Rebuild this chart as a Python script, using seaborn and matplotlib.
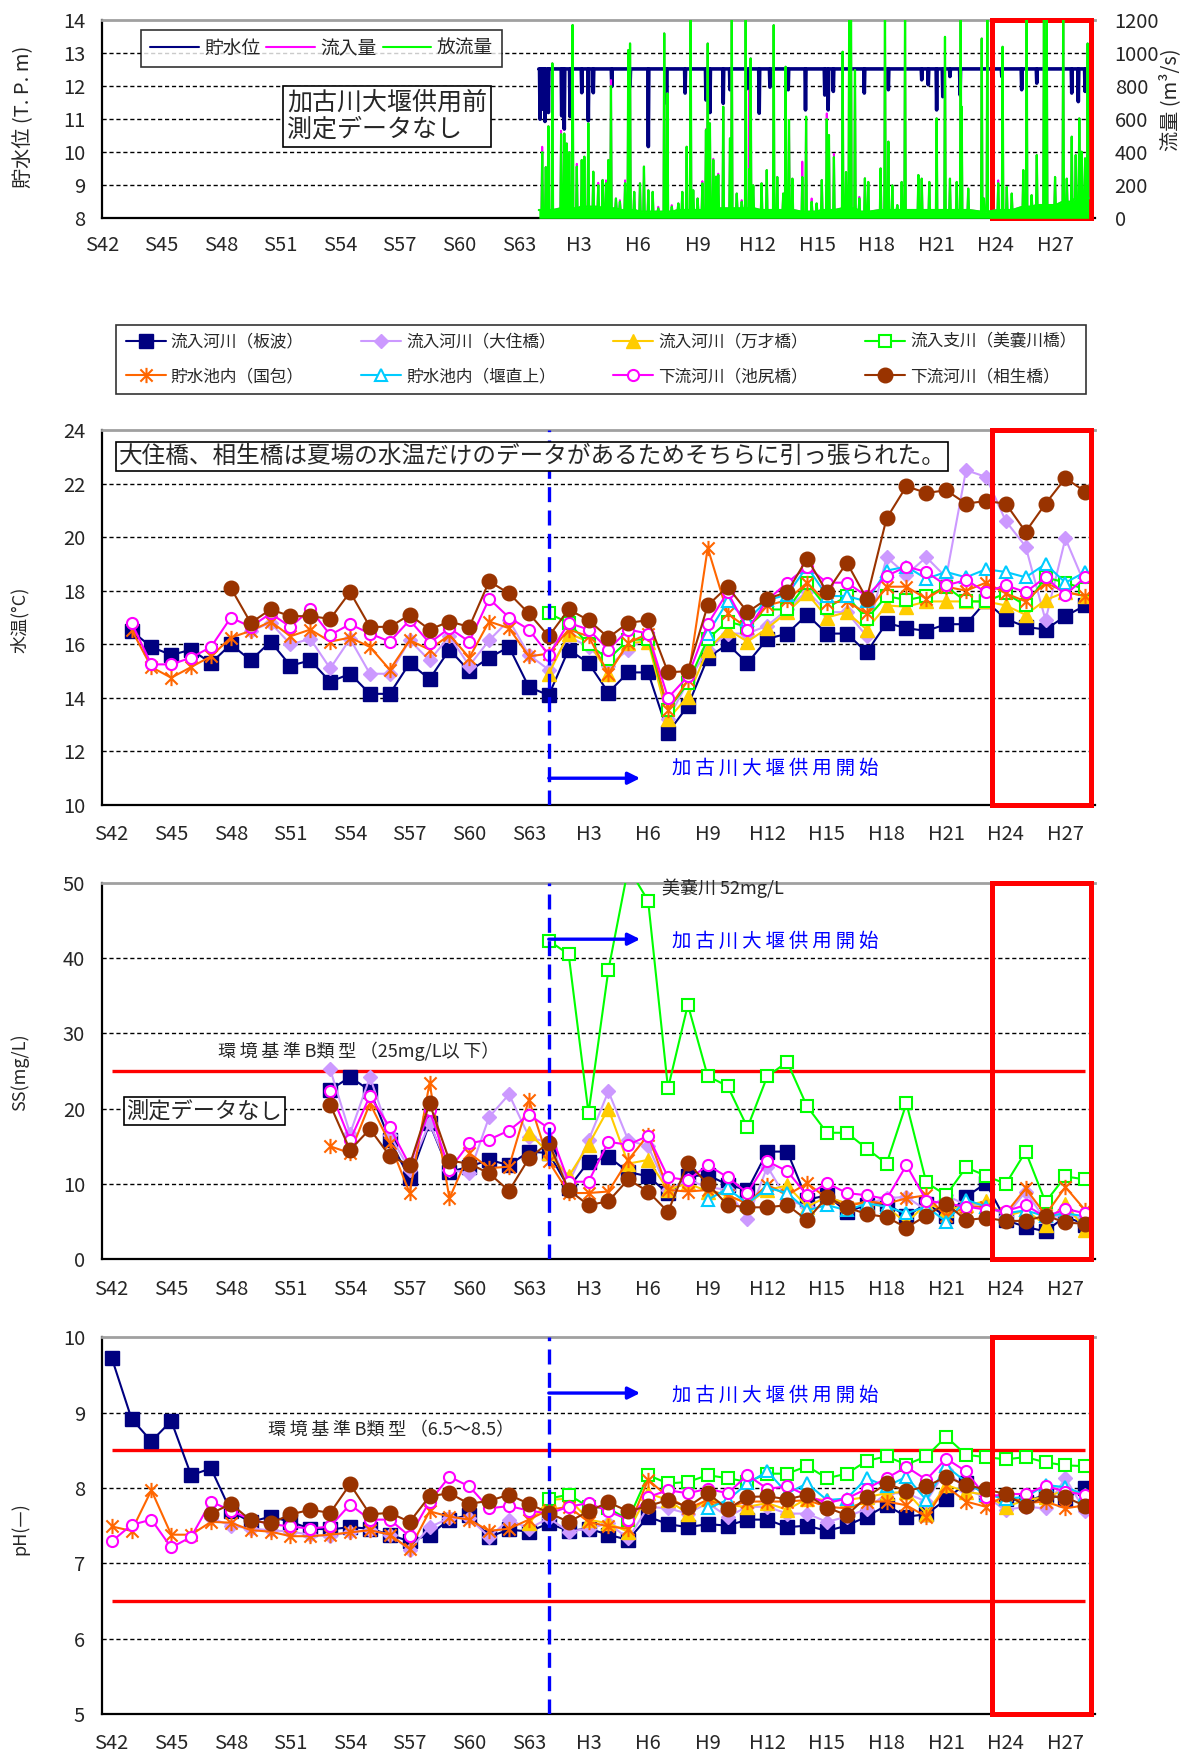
import numpy as np
import matplotlib
matplotlib.use("Agg")
import matplotlib.pyplot as plt
import seaborn as sns
from matplotlib.lines import Line2D
from matplotlib.patches import Rectangle
from matplotlib.path import Path

sns.set_style("white")
plt.rcParams["font.family"] = ["Noto Sans CJK JP", "DejaVu Sans"]
plt.rcParams["axes.unicode_minus"] = False

na = np.nan

# ---------------------------------------------------------------- categories
categories = ["S42", "S43", "S44", "S45", "S46", "S47", "S48", "S49", "S50", "S51",
              "S52", "S53", "S54", "S55", "S56", "S57", "S58", "S59", "S60", "S61",
              "S62", "S63", "H1", "H2", "H3", "H4", "H5", "H6", "H7", "H8",
              "H9", "H10", "H11", "H12", "H13", "H14", "H15", "H16", "H17", "H18",
              "H19", "H20", "H21", "H22", "H23", "H24", "H25", "H26", "H27", "H28"]
tick_labels = ["S42", "S45", "S48", "S51", "S54", "S57", "S60", "S63", "H3",
               "H6", "H9", "H12", "H15", "H18", "H21", "H24", "H27"]
first_year = 1967          # calendar year of S42
weir_start = "H1"          # 加古川大堰供用開始

# ---------------------------------------------------------------- water temperature (°C)
temp_itanami = [na, 16.5, 15.9, 15.6, 15.8, 15.3, 16.0, 15.4, 16.1, 15.2, 15.4, 14.6, 14.9, 14.15, 14.15,
                15.3, 14.7, 15.8, 15.0, 15.5, 15.9, 14.4, 14.1, 15.8, 15.3, 14.2, 14.95, 14.95, 12.7, 13.7,
                15.5, 16.0, 15.3, 16.2, 16.4, 17.1, 16.4, 16.4, 15.7, 16.8, 16.6, 16.5, 16.75, 16.75, 17.6,
                16.95, 16.65, 16.55, 17.05, 17.45]
temp_osumi = [na, na, na, na, na, na, na, 16.5, 16.8, 16.0, 16.2, 15.1, 16.2, 14.9, 14.9,
              16.15, 15.4, 16.3, 15.2, 16.15, 16.9, 15.6, 15.05, 16.3, 15.9, 15.2, 15.8, 16.3, 13.2, 14.6,
              15.8, 16.4, 16.4, 16.7, 17.3, 18.0, 17.2, 17.2, 16.3, 19.25, 18.6, 19.25, 18.5, 22.5, 22.25,
              20.6, 19.65, 16.9, 19.95, 18.2]
temp_bansai = [na] * 22 + [14.9, 16.4, 16.1, 14.9, 16.05, 16.1, 13.2, 14.05, 15.8, 16.55, 16.1, 16.6, 17.2,
                           17.9, 17.0, 17.2, 16.55, 17.45, 17.4, 17.6, 17.6, 17.6, 17.6, 17.45, 17.1, 17.65,
                           17.95, 17.8]
temp_minagi = [na] * 22 + [17.15, 16.8, 16.0, 15.45, 16.15, 16.2, 13.55, 14.55, 16.2, 16.85, 16.65, 17.3,
                           17.3, 18.3, 17.35, 17.8, 16.95, 17.8, 17.65, 17.8, 18.15, 17.6, 17.6, 17.9, 17.45,
                           18.5, 18.3, 18.05]
temp_kunikane = [na, 16.55, 15.15, 14.75, 15.15, 15.55, 16.25, 16.5, 16.85, 16.3, 16.55, 16.1, 16.25, 15.9,
                 15.05, 16.15, 15.8, 16.35, 15.5, 16.85, 16.6, 15.55, 15.65, 16.55, 16.3, 14.9, 16.05, 16.4,
                 13.55, 14.65, 19.6, 17.15, 16.6, 17.45, 17.65, 18.3, 17.55, 17.6, 17.15, 18.15, 18.15, 17.7,
                 18.15, 18.0, 18.3, 17.9, 17.6, 18.3, 17.95, 17.8]
temp_chokujo = [na] * 30 + [16.4, 17.6, 16.9, 17.65, 17.85, 18.9, 17.8, 17.8, 17.6, 18.75, 18.9, 18.45,
                            18.7, 18.5, 18.8, 18.7, 18.5, 19.0, 18.3, 18.7]
temp_ikejiri = [na, 16.8, 15.25, 15.25, 15.5, 15.9, 17.0, 16.65, 17.15, 16.65, 17.3, 16.35, 16.75, 16.4,
                16.1, 16.9, 16.05, 16.6, 16.1, 17.7, 17.0, 16.55, 15.6, 16.8, 16.55, 15.8, 16.55, 16.4, 14.0,
                14.8, 16.75, 17.95, 16.55, 17.65, 18.3, 18.9, 18.3, 18.3, 17.8, 18.55, 18.9, 18.7, 18.2, 18.4,
                17.95, 18.2, 17.95, 18.5, 17.85, 18.5]
temp_aioi = [na, na, na, na, na, na, 18.1, 16.8, 17.3, 17.05, 17.05, 16.95, 17.95, 16.65, 16.65, 17.1,
             16.55, 16.85, 16.65, 18.35, 17.9, 17.15, 16.3, 17.3, 16.9, 16.25, 16.8, 16.9, 14.95, 15.0, 17.45,
             18.15, 17.2, 17.7, 17.95, 19.2, 17.95, 19.05, 17.7, 20.7, 21.9, 21.65, 21.75, 21.25, 21.35,
             21.25, 20.2, 21.25, 22.2, 21.7]

# ---------------------------------------------------------------- SS (mg/L)
ss_itanami = [na] * 11 + [22.5, 24.2, 22.4, 15.8, 10.75, 18.05, 11.6, 12.3, 13.2, 12.5, 14.3, 14.1, 9.5,
                          12.95, 13.6, 11.6, 11.0, 8.75, 11.0, 11.2, 9.9, 9.2, 14.3, 14.3, 7.9, 8.5, 6.3,
                          7.2, 7.4, 5.7, 7.4, 5.7, 8.3, 10.1, 5.2, 4.3, 3.7, 5.7, 4.6]
ss_osumi = [na] * 11 + [25.2, 16.7, 24.2, 16.5, 11.9, 18.1, 11.9, 11.4, 18.9, 21.9, 16.3, 15.4, 10.1, 15.8,
                        22.3, 15.8, 15.0, 9.2, 10.5, 9.6, 9.2, 5.4, 12.3, 7.9, 7.0, 8.3, 7.4, 7.4, 8.1, 8.3,
                        6.5, 8.5, 7.2, 7.4, 5.7, 9.0, 5.2, 6.1, 5.2]
ss_bansai = [na] * 21 + [16.8, 14.1, 11.0, 15.2, 20.0, 12.7, 13.2, 9.2, 10.1, 9.0, 8.5, 7.4, 9.2, 9.8, 7.0,
                         8.3, 7.4, 7.4, 7.0, 4.8, 7.4, 6.5, 7.2, 7.7, 5.7, 6.5, 4.6, 7.4, 3.9]
ss_minagi = [na] * 22 + [42.3, 40.5, 19.4, 38.4, 52.0, 47.6, 22.7, 33.8, 24.3, 23.0, 17.5, 24.3, 26.2,
                         20.3, 16.8, 16.8, 14.7, 12.7, 20.7, 10.2, 8.5, 12.2, 11.1, 10.0, 14.3, 7.6, 11.0, 10.6]
ss_kunikane = [na] * 11 + [15.0, 14.1, 20.7, 15.4, 8.8, 23.4, 8.1, 14.1, 12.1, 12.3, 21.2, 13.0, 8.8, 8.8,
                           9.0, 13.2, 16.5, 9.2, 9.0, 9.2, 8.5, 7.4, 9.9, 8.5, 10.1, 8.1, 7.0, 7.7, 7.4, 8.1,
                           8.5, 5.7, 7.0, 7.0, 6.1, 9.4, 5.9, 9.6, 6.5]
ss_chokujo = [na] * 30 + [7.9, 9.4, 7.4, 9.5, 8.8, 6.5, 7.2, 6.5, 7.4, 7.0, 6.1, 7.0, 5.0, 7.9, 7.0, 6.1,
                          6.5, 5.7, 6.1, 5.7]
ss_ikejiri = [na] * 11 + [22.4, 15.8, 21.7, 17.5, 12.5, 19.8, 11.9, 15.4, 15.9, 17.1, 19.2, 17.4, 10.3,
                          10.3, 15.6, 15.2, 16.4, 10.9, 10.5, 12.5, 10.9, 8.8, 13.0, 11.7, 8.5, 10.1, 8.8, 8.5,
                          8.0, 12.5, 7.8, 7.4, 7.0, 6.6, 6.4, 7.2, 5.6, 6.7, 6.1]
ss_aioi = [na] * 11 + [20.5, 14.5, 17.3, 13.7, 12.5, 20.7, 13.1, 12.7, 11.4, 9.1, 13.4, 15.5, 9.2, 7.2, 7.7,
                       10.6, 9.0, 6.3, 12.8, 10.0, 7.2, 6.9, 6.9, 7.2, 5.2, 8.3, 6.9, 6.0, 5.6, 4.2, 5.8, 7.4,
                       5.2, 5.5, 5.1, 5.1, 5.8, 4.9, 4.7]

# ---------------------------------------------------------------- pH
ph_itanami = [9.73, 8.92, 8.62, 8.89, 8.17, 8.26, 7.69, 7.55, 7.62, 7.55, 7.46, 7.45, 7.48, 7.46, 7.38,
              7.29, 7.38, 7.58, 7.64, 7.35, 7.45, 7.42, 7.53, 7.43, 7.46, 7.38, 7.31, 7.62, 7.52, 7.48,
              7.52, 7.5, 7.58, 7.58, 7.48, 7.5, 7.43, 7.5, 7.62, 7.77, 7.62, 7.65, 7.85, 8.06, 7.93, 7.86,
              7.82, 7.91, 7.86, 8.0]
ph_osumi = [na] * 5 + [7.6, 7.5, 7.46, 7.44, 7.42, 7.38, 7.36, 7.42, 7.44, 7.38, 7.18, 7.48, 7.6, 7.6, 7.35,
                       7.58, 7.46, 7.6, 7.42, 7.46, 7.53, 7.33, 7.75, 7.73, 7.66, 7.8, 7.62, 7.75, 7.75, 7.66,
                       7.66, 7.55, 7.62, 7.72, 7.93, 7.93, 7.82, 8.24, 7.97, 7.88, 7.71, 7.75, 7.73, 8.13, 7.69]
ph_bansai = [na] * 21 + [7.53, 7.84, 7.86, 7.58, 7.53, 7.42, 7.93, 7.84, 7.66, 7.86, 7.77, 7.75, 7.8, 7.71,
                         7.86, 7.84, 7.84, 7.88, 7.93, 7.95, 7.66, 8.04, 7.95, 7.91, 7.75, 7.84, 7.88, 7.97, 7.91]
ph_minagi = [na] * 22 + [7.86, 7.91, 7.75, 7.73, 7.58, 8.17, 8.06, 8.08, 8.17, 8.13, 8.08, 8.19, 8.19,
                         8.29, 8.13, 8.19, 8.36, 8.42, 8.31, 8.42, 8.68, 8.44, 8.41, 8.38, 8.41, 8.34, 8.3, 8.29]
ph_kunikane = [7.49, 7.43, 7.97, 7.38, 7.38, 7.55, 7.54, 7.44, 7.42, 7.36, 7.36, 7.38, 7.41, 7.44, 7.38,
               7.19, 7.69, 7.62, 7.58, 7.43, 7.46, 7.58, 7.71, 7.75, 7.55, 7.49, 7.46, 8.11, 7.88, 7.73,
               7.84, 7.75, 7.82, 7.82, 7.82, 7.84, 7.75, 7.73, 7.82, 7.82, 7.77, 7.62, 8.02, 7.82, 7.75,
               7.91, 7.8, 7.82, 7.73, 7.77]
ph_chokujo = [na] * 30 + [7.73, 7.84, 8.06, 8.22, 7.93, 8.06, 7.84, 7.86, 8.13, 8.02, 8.15, 7.84, 8.29,
                          8.08, 7.91, 7.86, 7.88, 8.04, 8.01, 7.91]
ph_ikejiri = [7.29, 7.51, 7.58, 7.21, 7.35, 7.82, 7.7, 7.58, 7.52, 7.49, 7.46, 7.49, 7.78, 7.58, 7.58,
              7.36, 7.82, 8.15, 8.02, 7.73, 7.76, 7.7, 7.66, 7.75, 7.8, 7.69, 7.58, 7.88, 7.97, 7.93, 7.99,
              7.93, 8.17, 7.99, 8.02, 7.9, 7.8, 7.86, 7.99, 8.13, 8.28, 8.11, 8.39, 8.22, 7.88, 7.92, 7.92,
              8.03, 7.95, 7.91]
ph_aioi = [na] * 5 + [7.66, 7.79, 7.57, 7.53, 7.65, 7.71, 7.67, 8.05, 7.65, 7.67, 7.55, 7.89, 7.93, 7.79,
                      7.83, 7.91, 7.79, 7.67, 7.55, 7.69, 7.81, 7.69, 7.76, 7.84, 7.75, 7.93, 7.72, 7.88, 7.89,
                      7.85, 7.91, 7.74, 7.64, 7.88, 8.06, 7.96, 8.02, 8.15, 8.04, 7.98, 7.92, 7.76, 7.89, 7.88,
                      7.76]

# environmental standards (class B)
ss_limit = 25
ph_lower, ph_upper = 6.5, 8.5

# ---------------------------------------------------------------- reservoir record (H1–H28)
normal_level = 12.52
level_dip_t = [1989.06, 1989.19, 1989.31, 1989.48, 1990.15, 1990.28, 1990.57, 1991.16, 1991.49, 1991.74,
               1992.67, 1993.59, 1994.51, 1995.43, 1996.36, 1997.41, 1997.61, 1998.28, 1998.62, 1999.59,
               2000.09, 2000.63, 2001.55, 2002.42, 2003.39, 2003.56, 2003.82, 2005.38, 2006.59, 2008.27,
               2008.60, 2009.02, 2009.33, 2009.69, 2010.20, 2012.30, 2013.30, 2014.06, 2015.82, 2016.15,
               2016.49]
level_dip_v = [11.0, 11.3, 10.93, 11.2, 11.1, 10.7, 11.08, 11.8, 10.95, 11.8,
               11.99, 11.99, 10.17, 11.48, 11.79, 11.58, 11.2, 11.48, 11.89, 11.89,
               11.18, 11.97, 11.89, 11.28, 11.73, 11.28, 11.84, 11.79, 11.89, 12.19,
               12.04, 11.28, 11.68, 12.29, 11.73, 12.29, 11.89, 12.09, 11.79, 11.53,
               11.84]

flow_t = [1989.17, 1989.35, 1989.48, 1989.68, 1990.12, 1990.28, 1990.40, 1990.53, 1990.70, 1990.91,
          1991.16, 1991.29, 1991.49, 1991.74, 1991.99, 1992.21, 1992.38, 1992.50, 1992.63, 1992.88,
          1993.08, 1993.34, 1993.50, 1993.59, 1993.80, 1994.09, 1994.29, 1994.51, 1994.73, 1995.01,
          1995.31, 1995.47, 1995.69, 1996.02, 1996.22, 1996.44, 1996.64, 1996.77, 1996.99, 1997.23,
          1997.41, 1997.50, 1997.61, 1997.78, 1997.92, 1998.03, 1998.28, 1998.62, 1998.71, 1998.96,
          1999.21, 1999.41, 1999.60, 1999.66, 1999.79, 2000.21, 2000.47, 2000.82, 2001.00, 2001.30,
          2001.42, 2001.59, 2001.76, 2002.26, 2002.45, 2002.73, 2002.98, 2003.24, 2003.49, 2003.60,
          2003.85, 2004.29, 2004.46, 2004.62, 2004.71, 2004.91, 2005.13, 2005.41, 2005.58, 2006.20,
          2006.42, 2006.59, 2006.79, 2007.04, 2007.26, 2007.43, 2008.10, 2008.27, 2008.65, 2009.02,
          2009.44, 2009.69, 2010.03, 2010.23, 2010.28, 2010.61, 2011.29, 2011.40, 2011.57, 2012.12,
          2012.34, 2012.55, 2012.80, 2013.38, 2013.55, 2013.80, 2014.06, 2014.42, 2014.56, 2014.98,
          2015.39, 2015.57, 2015.82, 2016.02, 2016.20, 2016.32, 2016.49, 2016.62]
outflow_peak = [400, 310, 557, 938, 509, 513, 453, 400, 1170, 313,
                353, 373, 575, 282, 200, 232, 212, 353, 800, 120,
                100, 212, 1018, 1058, 160, 212, 313, 170, 160, 60,
                1119, 756, 70, 90, 160, 433, 1250, 170, 120, 212,
                534, 1058, 575, 353, 252, 262, 675, 484, 1250, 150,
                100, 1250, 300, 968, 200, 212, 292, 1169, 250, 150,
                917, 595, 240, 250, 615, 100, 90, 232, 600, 504,
                370, 1008, 280, 1250, 1250, 897, 120, 242, 220, 302,
                1250, 464, 200, 80, 220, 1250, 262, 240, 220, 605,
                1098, 240, 220, 1250, 675, 180, 1088, 120, 1250, 212,
                1038, 190, 150, 292, 1250, 140, 383, 1250, 1250, 250,
                1250, 240, 494, 383, 605, 403, 363, 1058]
inflow_peak = [433, 310, 557, 938, 530, 513, 453, 400, 1170, 330,
               353, 373, 575, 282, 215, 232, 230, 353, 837, 120,
               110, 230, 1018, 1058, 160, 212, 313, 170, 160, 70,
               1119, 756, 80, 90, 160, 433, 1250, 170, 120, 225,
               540, 1058, 575, 360, 252, 270, 675, 484, 1250, 150,
               110, 1250, 776, 968, 200, 212, 292, 1169, 250, 150,
               917, 595, 240, 343, 615, 120, 90, 232, 635, 504,
               390, 1008, 280, 1250, 1250, 897, 130, 242, 220, 302,
               1250, 464, 200, 80, 220, 1250, 262, 240, 220, 605,
               1098, 240, 220, 1250, 675, 180, 1088, 120, 1250, 230,
               1038, 190, 150, 292, 1250, 140, 383, 1250, 1250, 250,
               1250, 240, 494, 383, 605, 403, 363, 1058]
base_years = list(range(1989, 2017))
flow_base = [50, 60, 70, 60, 50, 40, 40, 50, 50, 60, 60, 50, 50, 40,
             50, 60, 40, 50, 50, 50, 50, 50, 40, 50, 70, 80, 100, 120]
record_start, record_end = 1989.0, 2016.67


def spike_line(times, peaks, base_of, half):
    ts, vs = [record_start], [base_of(record_start)]
    for t, p in zip(times, peaks):
        b = base_of(t)
        ts += [t - half, t, t + half]
        vs += [b, p, b]
    ts.append(record_end)
    vs.append(base_of(record_end))
    return np.array(ts), np.array(vs)


def flow_base_at(t):
    return flow_base[base_years.index(int(t))]


# ---------------------------------------------------------------- figure
W, H = 1190, 1751
fig = plt.figure(figsize=(W / 100, H / 100), dpi=100)


def rect(l, t, r, b):
    return [l / W, 1 - b / H, (r - l) / W, (b - t) / H]


def fp(x, y):
    return x / W, 1 - y / H


AX_L, AX_R = 101.7, 1095.2
TICK_FS = 14.5
GRID = dict(color="black", lw=1.0, ls=(0, (3, 2)), zorder=1)
BLUE = "#0000FF"
RED = "#FF0000"


def frame(ax):
    for s in ("left", "bottom"):
        ax.spines[s].set_color("black")
        ax.spines[s].set_linewidth(1.6)
    ax.spines["right"].set_visible(False)
    ax.spines["top"].set_color("#A0A0A0")
    ax.spines["top"].set_linewidth(2.0)


# ---------------- top: water level and discharge
ax0 = fig.add_axes(rect(AX_L, 20, AX_R, 218.3))
axq = ax0.twinx()
frame(ax0)
for s in axq.spines.values():
    s.set_visible(False)
ax0.set_xlim(first_year, first_year + len(categories))
ax0.set_ylim(8, 14)
axq.set_ylim(0, 1200)
ax0.set_yticks(range(8, 15))
axq.set_yticks(range(0, 1201, 200))
for v in range(9, 14):
    ax0.axhline(v, **GRID)
ax0.set_xticks([first_year + categories.index(c) for c in tick_labels])
ax0.set_xticklabels(tick_labels)
ax0.tick_params(axis="x", direction="in", length=6, width=1.2, pad=12, labelsize=TICK_FS)
ax0.tick_params(axis="y", length=0, pad=12, labelsize=TICK_FS)
axq.tick_params(axis="y", length=0, pad=14, labelsize=TICK_FS)

lt, lv = spike_line(level_dip_t, level_dip_v, lambda t: normal_level, 0.025)
sns.lineplot(x=lt, y=lv, ax=ax0, color="#000080", lw=2.6, sort=False, estimator=None, zorder=3)
it, iv = spike_line(flow_t, inflow_peak, flow_base_at, 0.035)
ot, ov = spike_line(flow_t, outflow_peak, flow_base_at, 0.035)
sns.lineplot(x=it, y=iv, ax=axq, color="#FF00FF", lw=1.4, sort=False, estimator=None, zorder=3)
axq.fill_between(ot, 0, ov, color="#00FF00", lw=0, zorder=4)
sns.lineplot(x=ot, y=ov, ax=axq, color="#00FF00", lw=1.6, sort=False, estimator=None, zorder=4)
ax0.set_ylabel("")
axq.set_ylabel("")

fig.text(*fp(24, 117), "貯水位 (T. P. m)", rotation=90, ha="center", va="center", fontsize=14.5)
fig.text(*fp(1170, 100), "流量 (m³/s)", rotation=90, ha="center", va="center", fontsize=14.5)

top_handles = [Line2D([], [], color="#000080", lw=1.5),
               Line2D([], [], color="#FF00FF", lw=1.5),
               Line2D([], [], color="#00FF00", lw=1.5)]
leg0 = fig.legend(top_handles, ["貯水位", "流入量", "放流量"], ncol=3, mode="expand",
                  loc="center", bbox_to_anchor=(132 / W, 1 - 64 / H, 379 / W, 31 / H),
                  fontsize=13.5, handlelength=2.6, handletextpad=0.3, borderpad=0.45,
                  frameon=True, fancybox=False, edgecolor="black")
leg0.get_frame().set_linewidth(1.2)

fig.text(*fp(287, 90), "加古川大堰供用前\n測定データなし", ha="left", va="top", fontsize=18,
         linespacing=1.05,
         bbox=dict(boxstyle="square,pad=0.15", fc="white", ec="black", lw=1.2))

# ---------------- station styles
star = Path([(0, -1), (0, 1), (-0.8, -0.8), (0.8, 0.8), (-0.8, 0.8), (0.8, -0.8)],
            [Path.MOVETO, Path.LINETO, Path.MOVETO, Path.LINETO, Path.MOVETO, Path.LINETO])

stations = [
    ("流入河川（板波）", temp_itanami, ss_itanami, ph_itanami,
     dict(color="#000080", marker="s", ms=9.5, mfc="#000080", mec="#000080", mew=1.0)),
    ("流入河川（大住橋）", temp_osumi, ss_osumi, ph_osumi,
     dict(color="#CC99FF", marker="D", ms=7.5, mfc="#CC99FF", mec="#CC99FF", mew=1.0)),
    ("流入河川（万才橋）", temp_bansai, ss_bansai, ph_bansai,
     dict(color="#FFCC00", marker="^", ms=10, mfc="#FFCC00", mec="#FFCC00", mew=1.0)),
    ("流入支川（美嚢川橋）", temp_minagi, ss_minagi, ph_minagi,
     dict(color="#00FF00", marker="s", ms=8.5, mfc="white", mec="#00FF00", mew=1.5)),
    ("貯水池内（国包）", temp_kunikane, ss_kunikane, ph_kunikane,
     dict(color="#FF6600", marker=star, ms=11, mfc="none", mec="#FF6600", mew=1.5)),
    ("貯水池内（堰直上）", temp_chokujo, ss_chokujo, ph_chokujo,
     dict(color="#00CCFF", marker="^", ms=8.5, mfc="white", mec="#00CCFF", mew=1.5)),
    ("下流河川（池尻橋）", temp_ikejiri, ss_ikejiri, ph_ikejiri,
     dict(color="#FF00FF", marker="o", ms=8, mfc="white", mec="#FF00FF", mew=1.5)),
    ("下流河川（相生橋）", temp_aioi, ss_aioi, ph_aioi,
     dict(color="#993300", marker="o", ms=10.5, mfc="#993300", mec="#993300", mew=1.0)),
]

pos = np.arange(len(categories))
weir_pos = categories.index(weir_start)


def plot_stations(ax, which):
    for k, st in enumerate(stations):
        vals = np.array(st[which], dtype=float)
        ok = ~np.isnan(vals)
        style = st[4]
        sns.lineplot(x=pos[ok], y=vals[ok], ax=ax, color=style["color"], lw=1.5,
                     marker=style["marker"], markersize=style["ms"],
                     markerfacecolor=style["mfc"], markeredgecolor=style["mec"],
                     markeredgewidth=style["mew"], sort=False, estimator=None,
                     zorder=4 + k * 0.1, clip_on=True)
    ax.set_xlabel("")
    ax.set_ylabel("")


def category_axes(ax, ymin, ymax, step):
    frame(ax)
    ax.set_xlim(-0.5, len(categories) - 0.5)
    ax.set_ylim(ymin, ymax)
    ticks = np.arange(ymin, ymax + step / 2, step)
    ax.set_yticks(ticks)
    for v in ticks[1:-1]:
        ax.axhline(v, **GRID)
    ax.set_xticks([categories.index(c) for c in tick_labels])
    ax.set_xticklabels(tick_labels)
    ax.set_xticks(np.arange(0.5, len(categories) - 1, 1), minor=True)
    ax.tick_params(axis="x", which="major", length=0, pad=14, labelsize=TICK_FS)
    ax.tick_params(axis="x", which="minor", direction="in", length=6, width=1.2)
    ax.tick_params(axis="y", length=0, pad=12, labelsize=TICK_FS)
    ax.axvline(weir_pos, color=BLUE, lw=2.4, ls=(0, (4.5, 2.5)), zorder=6)


def weir_arrow(ax, y_arrow, y_text):
    ax.annotate("", xy=(weir_pos + 4.6, y_arrow), xytext=(weir_pos, y_arrow),
                arrowprops=dict(arrowstyle="-|>", color=BLUE, lw=2.4, mutation_scale=18,
                                shrinkA=0, shrinkB=0), zorder=7)
    ax.text(weir_pos + 6.2, y_text, "加\u2009古\u2009川\u2009大\u2009堰\u2009供\u2009用\u2009開\u2009始",
            color=BLUE, fontsize=14, ha="left", va="center", zorder=7)


def red_box(ax, x0, x1):
    ax.add_patch(Rectangle((x0, 0), x1 - x0, 1, transform=ax.get_xaxis_transform(),
                           fill=False, ec=RED, lw=3.6, clip_on=False, zorder=20))


red_box(ax0, first_year + 44.8, first_year + 49.78)

# ---------------- legend block
leg_handles = []
for st in stations:
    s = st[4]
    leg_handles.append(Line2D([], [], color=s["color"], lw=1.5, marker=s["marker"], markersize=s["ms"],
                              markerfacecolor=s["mfc"], markeredgecolor=s["mec"],
                              markeredgewidth=s["mew"]))
order = [0, 4, 1, 5, 2, 6, 3, 7]
leg1 = fig.legend([leg_handles[i] for i in order], [stations[i][0] for i in order], ncol=4,
                  mode="expand", loc="center",
                  bbox_to_anchor=(108 / W, 1 - 394 / H, 986 / W, 69 / H),
                  fontsize=12, handlelength=2.4, handletextpad=0.3, labelspacing=1.05,
                  borderpad=0.55, numpoints=1, frameon=True, fancybox=False, edgecolor="black")
leg1.get_frame().set_linewidth(1.2)

# ---------------- water temperature
ax1 = fig.add_axes(rect(AX_L, 430, AX_R, 805))
category_axes(ax1, 10, 24, 2)
plot_stations(ax1, 1)
weir_arrow(ax1, 11.0, 11.38)
red_box(ax1, 44.3, 49.28)
ax1.text(0.35, 23.0, "大住橋、相生橋は夏場の水温だけのデータがあるためそちらに引っ張られた。",
         fontsize=17, ha="left", va="center", zorder=8,
         bbox=dict(boxstyle="square,pad=0.12", fc="white", ec="black", lw=1.2))
fig.text(*fp(20, 620), "水温(°C)", rotation=90, ha="center", va="center", fontsize=13)

# ---------------- SS
ax2 = fig.add_axes(rect(AX_L, 882.7, AX_R, 1259.3))
category_axes(ax2, 0, 50, 10)
ax2.hlines(ss_limit, 0, len(categories) - 1, color=RED, lw=2.4, zorder=3)
plot_stations(ax2, 2)
weir_arrow(ax2, 42.5, 42.2)
red_box(ax2, 44.3, 49.28)
ax2.text(5.35, ss_limit + 2.6, "環\u2009境\u2009基\u2009準\u2009B類\u2009型\u2009（25mg/L以\u2009下）",
         fontsize=13, ha="left", va="center", zorder=8)
peak_year = "H5"
ax2.text(27.7, 49.3, f"美嚢川 {ss_minagi[categories.index(peak_year)]:.0f}mg/L", fontsize=13,
         ha="left", va="center", zorder=8)
ax2.text(0.75, 19.66, "測定データなし", fontsize=16, ha="left", va="center", zorder=8,
         bbox=dict(boxstyle="square,pad=0.12", fc="white", ec="black", lw=1.2))
fig.text(*fp(20, 1072), "SS(mg/L)", rotation=90, ha="center", va="center", fontsize=13)

# ---------------- pH
ax3 = fig.add_axes(rect(AX_L, 1337.3, AX_R, 1714))
category_axes(ax3, 5, 10, 1)
ax3.hlines([ph_upper, ph_lower], 0, len(categories) - 1, color=RED, lw=2.4, zorder=3)
plot_stations(ax3, 3)
weir_arrow(ax3, 9.26, 9.23)
red_box(ax3, 44.3, 49.28)
ax3.text(7.87, 8.77, f"環\u2009境\u2009基\u2009準\u2009B類\u2009型\u2009（{ph_lower}～{ph_upper}）",
         fontsize=13, ha="left", va="center", zorder=8)
fig.text(*fp(20, 1529), "pH(—)", rotation=90, ha="center", va="center", fontsize=13)

fig.savefig("out.png", dpi=100)
